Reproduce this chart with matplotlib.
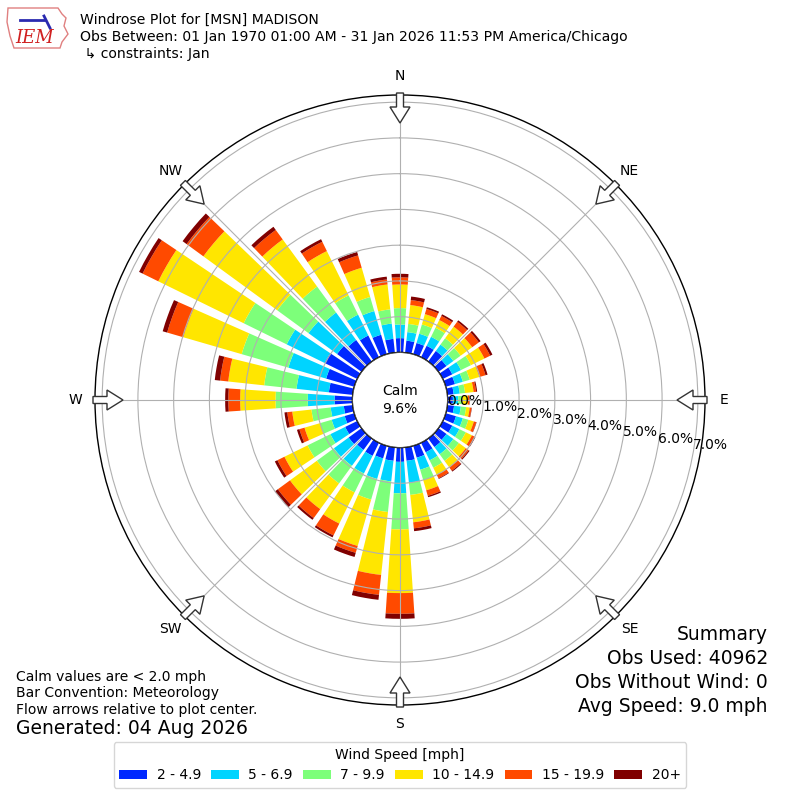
import numpy as np
import matplotlib
matplotlib.use("Agg")
import matplotlib.pyplot as plt
from matplotlib.patches import Circle, FancyArrow, Polygon
from matplotlib.lines import Line2D

# ---------------- data ----------------
directions = list(range(0, 360, 10))
speed_bins = ["2 - 4.9", "5 - 6.9", "7 - 9.9", "10 - 14.9", "15 - 19.9", "20+"]
bin_colors = ["#0028ff", "#00d4ff", "#7dff7a", "#ffe600", "#ff4a00", "#800000"]

# percent of observations per direction (0..350 deg) for each speed bin
pct_2_5 = [0.40, 0.34, 0.33, 0.36, 0.37, 0.28, 0.30, 0.27, 0.18, 0.15, 0.19, 0.30,
           0.30, 0.28, 0.30, 0.30, 0.35, 0.38, 0.40, 0.38, 0.37, 0.41, 0.40, 0.45,
           0.38, 0.28, 0.25, 0.50, 0.67, 0.82, 1.02, 0.85, 0.75, 0.68, 0.57, 0.39]
pct_5_7 = [0.38, 0.24, 0.27, 0.28, 0.22, 0.24, 0.27, 0.23, 0.17, 0.15, 0.19, 0.20,
           0.22, 0.24, 0.25, 0.25, 0.35, 0.62, 0.88, 0.58, 0.60, 0.55, 0.55, 0.51,
           0.46, 0.38, 0.37, 0.75, 0.91, 1.10, 1.18, 0.99, 0.95, 0.65, 0.69, 0.43]
pct_7_10 = [0.46, 0.23, 0.27, 0.28, 0.22, 0.25, 0.31, 0.20, 0.15, 0.12, 0.15, 0.16,
            0.20, 0.19, 0.23, 0.23, 0.30, 0.34, 1.01, 0.86, 0.60, 0.59, 0.61, 0.59,
            0.71, 0.34, 0.54, 0.90, 0.91, 1.36, 1.34, 1.08, 0.90, 0.60, 0.41, 0.40]
pct_10_15 = [0.66, 0.53, 0.30, 0.24, 0.40, 0.40, 0.42, 0.28, 0.24, 0.15, 0.10, 0.16,
             0.19, 0.24, 0.22, 0.22, 0.30, 0.77, 1.78, 1.77, 1.35, 0.97, 0.89, 0.93,
             0.72, 0.45, 0.54, 0.99, 1.01, 1.70, 2.66, 2.56, 1.63, 1.38, 0.85, 0.70]
pct_15_20 = [0.20, 0.14, 0.15, 0.13, 0.17, 0.23, 0.18, 0.18, 0.07, 0.04, 0.05, 0.07,
             0.08, 0.10, 0.12, 0.11, 0.16, 0.17, 0.58, 0.56, 0.20, 0.37, 0.31, 0.42,
             0.22, 0.15, 0.14, 0.33, 0.23, 0.47, 0.49, 0.58, 0.33, 0.29, 0.36, 0.14]
pct_20p = [0.10, 0.10, 0.05, 0.05, 0.05, 0.06, 0.07, 0.06, 0.03, 0.01, 0.01, 0.01,
           0.03, 0.03, 0.03, 0.02, 0.04, 0.08, 0.14, 0.14, 0.12, 0.06, 0.06, 0.10,
           0.08, 0.07, 0.08, 0.09, 0.15, 0.13, 0.11, 0.14, 0.11, 0.08, 0.10, 0.08]

calm_pct = 9.6
r_ticks = [0, 1, 2, 3, 4, 5, 6, 7]
compass = ["N", "NE", "E", "SE", "S", "SW", "W", "NW"]
compass_deg = [0, 45, 90, 135, 180, 225, 270, 315]

title_lines = ["Windrose Plot for [MSN] MADISON",
               "Obs Between: 01 Jan 1970 01:00 AM - 31 Jan 2026 11:53 PM America/Chicago",
               " \u21b3 constraints: Jan"]
notes = ["Calm values are < 2.0 mph", "Bar Convention: Meteorology",
         "Flow arrows relative to plot center."]
generated = "Generated: 04 Aug 2026"
summary = ["Summary", "Obs Used: 40962", "Obs Without Wind: 0", "Avg Speed: 9.0 mph"]

series = [pct_2_5, pct_5_7, pct_7_10, pct_10_15, pct_15_20, pct_20p]

# ---------------- figure ----------------
W = 800.0
fig = plt.figure(figsize=(8, 8), dpi=100)
R_PX = 305.0
ax = fig.add_axes([(400 - R_PX) / W, (400 - R_PX) / W, 2 * R_PX / W, 2 * R_PX / W],
                  projection="polar")
ax.set_theta_zero_location("N")
ax.set_theta_direction(-1)
ax.set_rorigin(-1.33)
ax.set_ylim(0, 7.2)

theta = np.deg2rad(directions)
width = np.deg2rad(7.7)
bottom = np.zeros(len(directions))
handles = []
for vals, col, lab in zip(series, bin_colors, speed_bins):
    vals = np.asarray(vals)
    b = ax.bar(theta, vals, width=width, bottom=bottom, color=col, linewidth=0,
               label=lab, zorder=1)
    handles.append(b)
    bottom = bottom + vals

ax.set_axisbelow(False)
ax.grid(True, color="#b0b0b0", linewidth=0.8)
ax.set_yticks(r_ticks)
ax.set_yticklabels([f"{v:.1f}%" for v in r_ticks], fontsize=10)
ax.set_rlabel_position(100)
ax.set_xticks(np.deg2rad(compass_deg))
ax.set_xticklabels(compass, fontsize=10)
ax.tick_params(axis="x", pad=3.5)
ax.spines["polar"].set_linewidth(1.0)

# calm circle
calm_r = 47.6 / (2 * R_PX)
ax.add_patch(Circle((0.5, 0.5), calm_r, transform=ax.transAxes, facecolor="white",
                    edgecolor="black", linewidth=1.0, zorder=5))
ax.text(0.5, 0.5, f"Calm\n{calm_pct:.1f}%", transform=ax.transAxes, ha="center",
        va="center", fontsize=10, zorder=6, linespacing=1.3)

# flow arrows at compass points (figure fraction coords, square figure)
for a in compass_deg:
    ux, uy = np.sin(np.deg2rad(a)), np.cos(np.deg2rad(a))
    r0 = 307.0 / W
    L = 30.0 / W
    arr = FancyArrow(0.5 + ux * r0, 0.5 + uy * r0, -ux * L, -uy * L,
                     width=7.0 / W, head_width=20.0 / W, head_length=16.0 / W,
                     length_includes_head=True, transform=fig.transFigure,
                     facecolor="white", edgecolor="#333333", linewidth=1.0,
                     zorder=10)
    fig.add_artist(arr)

# header text
for i, line in enumerate(title_lines):
    fig.text(80 / W, 1 - (20 + 17 * i) / W, line, fontsize=10.1, ha="left",
             va="center")

# logo approximation
logo_pts = [(8, 8), (58, 8), (62, 14), (66, 18), (64, 26), (68, 34), (62, 42),
            (60, 48), (14, 48), (10, 36), (7, 22)]
fig.add_artist(Polygon([(x / W, 1 - y / W) for x, y in logo_pts], closed=True,
                       transform=fig.transFigure, facecolor="white",
                       edgecolor="#e08080", linewidth=1.0))
fig.add_artist(Line2D([20 / W, 44 / W], [1 - 20 / W, 1 - 20 / W],
                      transform=fig.transFigure, color="#2a2ab0", linewidth=2))
fig.add_artist(Line2D([44 / W, 50 / W], [1 - 16 / W, 1 - 28 / W],
                      transform=fig.transFigure, color="#2a2ab0", linewidth=2))
fig.text(35 / W, 1 - 38 / W, "IEM", fontsize=13, color="#d02020", style="italic",
         family="DejaVu Serif", ha="center", va="center")

# bottom-left notes
for i, line in enumerate(notes):
    fig.text(16 / W, 1 - (677 + 16.5 * i) / W, line, fontsize=10, ha="left", va="center")
fig.text(16 / W, 1 - 729 / W, generated, fontsize=13.5, ha="left", va="center")

# summary block
for i, line in enumerate(summary):
    fig.text(768 / W, 1 - (635 + 23.7 * i) / W, line, fontsize=13.5, ha="right",
             va="center")

# legend
leg = fig.legend(handles=handles, labels=speed_bins, loc="center",
                 bbox_to_anchor=(0.5, 1 - 765 / W), ncol=6, fontsize=10,
                 title="Wind Speed [mph]", title_fontsize=10, columnspacing=0.72,
                 handletextpad=0.7, handlelength=2.0, handleheight=0.67)

fig.savefig("out.png", dpi=100)
